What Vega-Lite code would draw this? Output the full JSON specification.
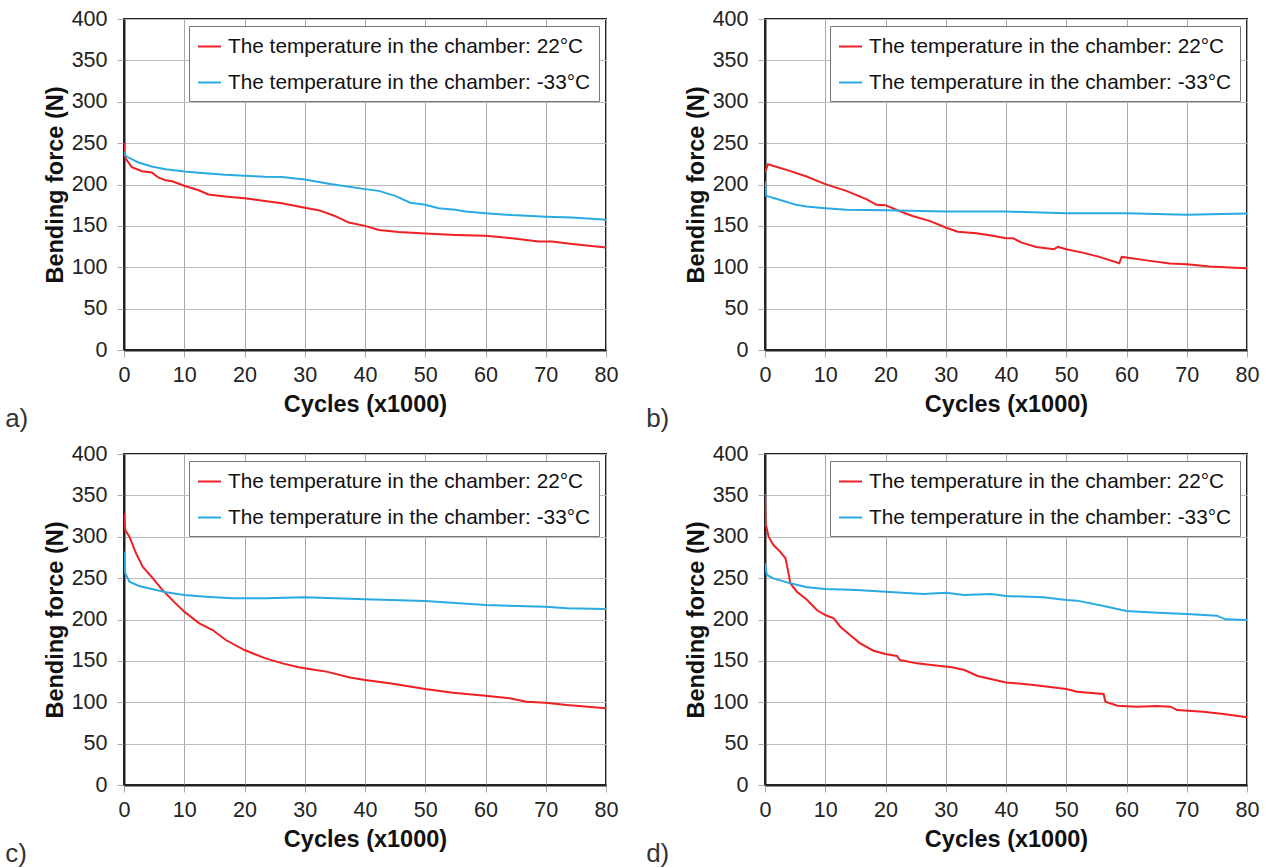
{
"$schema": "https://vega.github.io/schema/vega-lite/v6.json",
"background": "white",
"padding": {"left": 4, "top": 7, "right": 0, "bottom": 0},
"datasets": {"d": [
{"panel":"a","series":"22","cycles":0,"force":250},{"panel":"a","series":"22","cycles":0.1,"force":236},{"panel":"a","series":"22","cycles":0.3,"force":231},{"panel":"a","series":"22","cycles":1.3,"force":221},{"panel":"a","series":"22","cycles":3,"force":216},{"panel":"a","series":"22","cycles":4.6,"force":214.5},{"panel":"a","series":"22","cycles":5.7,"force":208.5},{"panel":"a","series":"22","cycles":6.9,"force":205},{"panel":"a","series":"22","cycles":8,"force":204},{"panel":"a","series":"22","cycles":10,"force":198.5},{"panel":"a","series":"22","cycles":12.4,"force":193},{"panel":"a","series":"22","cycles":14,"force":188},{"panel":"a","series":"22","cycles":16.8,"force":185.5},{"panel":"a","series":"22","cycles":20,"force":183.5},{"panel":"a","series":"22","cycles":23.4,"force":180},{"panel":"a","series":"22","cycles":26.2,"force":177.4},{"panel":"a","series":"22","cycles":30,"force":172},{"panel":"a","series":"22","cycles":32.3,"force":169},{"panel":"a","series":"22","cycles":35,"force":162},{"panel":"a","series":"22","cycles":37.3,"force":154},{"panel":"a","series":"22","cycles":40,"force":150},{"panel":"a","series":"22","cycles":42.3,"force":145},{"panel":"a","series":"22","cycles":45.6,"force":142.7},{"panel":"a","series":"22","cycles":50,"force":140.7},{"panel":"a","series":"22","cycles":55,"force":139},{"panel":"a","series":"22","cycles":60,"force":138},{"panel":"a","series":"22","cycles":64.4,"force":135},{"panel":"a","series":"22","cycles":68.8,"force":131},{"panel":"a","series":"22","cycles":71,"force":131},{"panel":"a","series":"22","cycles":74.4,"force":128},{"panel":"a","series":"22","cycles":80,"force":124},
{"panel":"a","series":"-33","cycles":0,"force":240},{"panel":"a","series":"-33","cycles":0.1,"force":236},{"panel":"a","series":"-33","cycles":0.5,"force":233.5},{"panel":"a","series":"-33","cycles":2.4,"force":226.6},{"panel":"a","series":"-33","cycles":4.6,"force":221.8},{"panel":"a","series":"-33","cycles":6.9,"force":218.5},{"panel":"a","series":"-33","cycles":10,"force":215.7},{"panel":"a","series":"-33","cycles":13.5,"force":213.7},{"panel":"a","series":"-33","cycles":16.8,"force":211.7},{"panel":"a","series":"-33","cycles":20,"force":210.5},{"panel":"a","series":"-33","cycles":23.4,"force":209.3},{"panel":"a","series":"-33","cycles":26.2,"force":209},{"panel":"a","series":"-33","cycles":30,"force":206},{"panel":"a","series":"-33","cycles":34.5,"force":200.4},{"panel":"a","series":"-33","cycles":40,"force":194.4},{"panel":"a","series":"-33","cycles":42.3,"force":192.3},{"panel":"a","series":"-33","cycles":45,"force":186.3},{"panel":"a","series":"-33","cycles":47.5,"force":178},{"panel":"a","series":"-33","cycles":50,"force":175.4},{"panel":"a","series":"-33","cycles":52.2,"force":171.4},{"panel":"a","series":"-33","cycles":55,"force":169.4},{"panel":"a","series":"-33","cycles":56.6,"force":167.3},{"panel":"a","series":"-33","cycles":60,"force":165.3},{"panel":"a","series":"-33","cycles":64.4,"force":163},{"panel":"a","series":"-33","cycles":70,"force":161},{"panel":"a","series":"-33","cycles":74.4,"force":160},{"panel":"a","series":"-33","cycles":80,"force":157.3},
{"panel":"b","series":"22","cycles":0,"force":214.5},{"panel":"b","series":"22","cycles":0.5,"force":224.6},{"panel":"b","series":"22","cycles":1.3,"force":222.6},{"panel":"b","series":"22","cycles":4.1,"force":216.5},{"panel":"b","series":"22","cycles":6.9,"force":209.7},{"panel":"b","series":"22","cycles":10,"force":200.4},{"panel":"b","series":"22","cycles":13.5,"force":192.3},{"panel":"b","series":"22","cycles":16.8,"force":182.3},{"panel":"b","series":"22","cycles":18.5,"force":175.4},{"panel":"b","series":"22","cycles":20,"force":175},{"panel":"b","series":"22","cycles":22.3,"force":168},{"panel":"b","series":"22","cycles":24.5,"force":162},{"panel":"b","series":"22","cycles":27.3,"force":156},{"panel":"b","series":"22","cycles":30,"force":148},{"panel":"b","series":"22","cycles":32,"force":143},{"panel":"b","series":"22","cycles":35.1,"force":141},{"panel":"b","series":"22","cycles":37.8,"force":138},{"panel":"b","series":"22","cycles":40,"force":135},{"panel":"b","series":"22","cycles":41.2,"force":135},{"panel":"b","series":"22","cycles":42.5,"force":130},{"panel":"b","series":"22","cycles":45,"force":124.6},{"panel":"b","series":"22","cycles":48,"force":121.8},{"panel":"b","series":"22","cycles":48.6,"force":124.6},{"panel":"b","series":"22","cycles":50,"force":121.8},{"panel":"b","series":"22","cycles":52.7,"force":117.7},{"panel":"b","series":"22","cycles":55.5,"force":112.5},{"panel":"b","series":"22","cycles":58.8,"force":104.8},{"panel":"b","series":"22","cycles":59.2,"force":112.5},{"panel":"b","series":"22","cycles":60,"force":111.7},{"panel":"b","series":"22","cycles":63.9,"force":107.7},{"panel":"b","series":"22","cycles":67.2,"force":104.4},{"panel":"b","series":"22","cycles":70,"force":103.6},{"panel":"b","series":"22","cycles":73.8,"force":100.8},{"panel":"b","series":"22","cycles":77.1,"force":99.6},{"panel":"b","series":"22","cycles":80,"force":98.8},
{"panel":"b","series":"-33","cycles":0,"force":204},{"panel":"b","series":"-33","cycles":0.2,"force":186.3},{"panel":"b","series":"-33","cycles":2.4,"force":181.5},{"panel":"b","series":"-33","cycles":5.2,"force":175.4},{"panel":"b","series":"-33","cycles":6.9,"force":173.4},{"panel":"b","series":"-33","cycles":10,"force":171.4},{"panel":"b","series":"-33","cycles":13.5,"force":169.4},{"panel":"b","series":"-33","cycles":20,"force":169},{"panel":"b","series":"-33","cycles":30,"force":167.3},{"panel":"b","series":"-33","cycles":40,"force":167.3},{"panel":"b","series":"-33","cycles":50,"force":165.3},{"panel":"b","series":"-33","cycles":60,"force":165.3},{"panel":"b","series":"-33","cycles":70,"force":163.3},{"panel":"b","series":"-33","cycles":80,"force":165},
{"panel":"c","series":"22","cycles":0,"force":328},{"panel":"c","series":"22","cycles":0.2,"force":308},{"panel":"c","series":"22","cycles":0.9,"force":300},{"panel":"c","series":"22","cycles":2,"force":280},{"panel":"c","series":"22","cycles":3.1,"force":263.8},{"panel":"c","series":"22","cycles":4.8,"force":249.7},{"panel":"c","series":"22","cycles":6.4,"force":235.6},{"panel":"c","series":"22","cycles":8.1,"force":222.8},{"panel":"c","series":"22","cycles":10,"force":209.5},{"panel":"c","series":"22","cycles":12.5,"force":195.4},{"panel":"c","series":"22","cycles":14.7,"force":187.3},{"panel":"c","series":"22","cycles":16.9,"force":175.2},{"panel":"c","series":"22","cycles":20,"force":163.1},{"panel":"c","series":"22","cycles":23.5,"force":153},{"panel":"c","series":"22","cycles":26.3,"force":147},{"panel":"c","series":"22","cycles":29,"force":142.2},{"panel":"c","series":"22","cycles":31.8,"force":139},{"panel":"c","series":"22","cycles":33.6,"force":137},{"panel":"c","series":"22","cycles":37.5,"force":130},{"panel":"c","series":"22","cycles":40,"force":127},{"panel":"c","series":"22","cycles":44.1,"force":123},{"panel":"c","series":"22","cycles":50,"force":116},{"panel":"c","series":"22","cycles":54.6,"force":111.6},{"panel":"c","series":"22","cycles":60,"force":108},{"panel":"c","series":"22","cycles":64,"force":104.7},{"panel":"c","series":"22","cycles":66.8,"force":100.7},{"panel":"c","series":"22","cycles":70,"force":99.5},{"panel":"c","series":"22","cycles":73.5,"force":96.7},{"panel":"c","series":"22","cycles":80,"force":92.7},
{"panel":"c","series":"-33","cycles":0,"force":282},{"panel":"c","series":"-33","cycles":0.2,"force":255.8},{"panel":"c","series":"-33","cycles":0.9,"force":245.7},{"panel":"c","series":"-33","cycles":2.5,"force":240.5},{"panel":"c","series":"-33","cycles":4.8,"force":236.5},{"panel":"c","series":"-33","cycles":7,"force":232.8},{"panel":"c","series":"-33","cycles":10,"force":229.6},{"panel":"c","series":"-33","cycles":13.6,"force":227.6},{"panel":"c","series":"-33","cycles":18,"force":225.6},{"panel":"c","series":"-33","cycles":23.5,"force":225.6},{"panel":"c","series":"-33","cycles":30,"force":226.8},{"panel":"c","series":"-33","cycles":40,"force":224.4},{"panel":"c","series":"-33","cycles":50,"force":222.4},{"panel":"c","series":"-33","cycles":60,"force":217.5},{"panel":"c","series":"-33","cycles":70,"force":215.5},{"panel":"c","series":"-33","cycles":73.5,"force":213.5},{"panel":"c","series":"-33","cycles":80,"force":212.7},
{"panel":"d","series":"22","cycles":0,"force":352},{"panel":"d","series":"22","cycles":0.1,"force":316},{"panel":"d","series":"22","cycles":0.6,"force":300},{"panel":"d","series":"22","cycles":1.4,"force":290},{"panel":"d","series":"22","cycles":2.5,"force":282},{"panel":"d","series":"22","cycles":3.4,"force":274},{"panel":"d","series":"22","cycles":3.8,"force":260},{"panel":"d","series":"22","cycles":4.2,"force":243.7},{"panel":"d","series":"22","cycles":5.3,"force":233.6},{"panel":"d","series":"22","cycles":7,"force":223.6},{"panel":"d","series":"22","cycles":8.6,"force":211.5},{"panel":"d","series":"22","cycles":10,"force":205.4},{"panel":"d","series":"22","cycles":11.4,"force":201.4},{"panel":"d","series":"22","cycles":12.5,"force":191.3},{"panel":"d","series":"22","cycles":14.1,"force":181.3},{"panel":"d","series":"22","cycles":15.8,"force":171.2},{"panel":"d","series":"22","cycles":18,"force":162.3},{"panel":"d","series":"22","cycles":20,"force":158.3},{"panel":"d","series":"22","cycles":21.9,"force":155.9},{"panel":"d","series":"22","cycles":22.4,"force":151},{"panel":"d","series":"22","cycles":25.2,"force":147},{"panel":"d","series":"22","cycles":29.1,"force":143.8},{"panel":"d","series":"22","cycles":31,"force":142.2},{"panel":"d","series":"22","cycles":33.1,"force":139},{"panel":"d","series":"22","cycles":35.3,"force":131.7},{"panel":"d","series":"22","cycles":40,"force":124},{"panel":"d","series":"22","cycles":44.6,"force":120.8},{"panel":"d","series":"22","cycles":50,"force":116},{"panel":"d","series":"22","cycles":51.8,"force":112.8},{"panel":"d","series":"22","cycles":56.2,"force":110},{"panel":"d","series":"22","cycles":56.5,"force":100.7},{"panel":"d","series":"22","cycles":58.5,"force":95.9},{"panel":"d","series":"22","cycles":61.8,"force":94.7},{"panel":"d","series":"22","cycles":65.1,"force":95.5},{"panel":"d","series":"22","cycles":67.3,"force":94.7},{"panel":"d","series":"22","cycles":68.4,"force":90.6},{"panel":"d","series":"22","cycles":72.7,"force":88.6},{"panel":"d","series":"22","cycles":76.1,"force":85.8},{"panel":"d","series":"22","cycles":80,"force":81.8},
{"panel":"d","series":"-33","cycles":0,"force":268},{"panel":"d","series":"-33","cycles":0.3,"force":253.8},{"panel":"d","series":"-33","cycles":1.4,"force":249.7},{"panel":"d","series":"-33","cycles":4.2,"force":243.7},{"panel":"d","series":"-33","cycles":7,"force":238.9},{"panel":"d","series":"-33","cycles":10,"force":236.9},{"panel":"d","series":"-33","cycles":15.2,"force":235.6},{"panel":"d","series":"-33","cycles":20,"force":233.6},{"panel":"d","series":"-33","cycles":26.3,"force":230.8},{"panel":"d","series":"-33","cycles":30,"force":232.4},{"panel":"d","series":"-33","cycles":33.1,"force":229.6},{"panel":"d","series":"-33","cycles":37.5,"force":230.8},{"panel":"d","series":"-33","cycles":40,"force":228.4},{"panel":"d","series":"-33","cycles":46.2,"force":226.8},{"panel":"d","series":"-33","cycles":50,"force":223.6},{"panel":"d","series":"-33","cycles":51.8,"force":222.8},{"panel":"d","series":"-33","cycles":56.2,"force":216.4},{"panel":"d","series":"-33","cycles":60,"force":210.3},{"panel":"d","series":"-33","cycles":65.1,"force":208.3},{"panel":"d","series":"-33","cycles":70,"force":206.7},{"panel":"d","series":"-33","cycles":75,"force":204.6},{"panel":"d","series":"-33","cycles":76.4,"force":200.2},{"panel":"d","series":"-33","cycles":80,"force":199.4}
]},
"columns": 2,
"spacing": {"row": 9, "column": 26},
"resolve": {"scale": {"color": "independent"}, "legend": {"color": "independent"}},
"concat": [
{"width": 482, "height": 331, "data": {"name": "d"}, "transform": [{"filter": "datum.panel === 'a'"}],
 "title": {"text": "a)"},
 "mark": {"type": "line", "strokeWidth": 2, "clip": true},
 "encoding": {
  "x": {"field": "cycles", "type": "quantitative", "scale": {"domain": [0, 80], "nice": false}, "axis": {"values": [0,10,20,30,40,50,60,70,80], "title": "Cycles (x1000)"}},
  "y": {"field": "force", "type": "quantitative", "scale": {"domain": [0, 400], "nice": false}, "axis": {"values": [0,50,100,150,200,250,300,350,400], "title": "Bending force (N)"}},
  "color": {"field": "series", "type": "nominal", "scale": {"domain": ["22", "-33"], "range": ["#ee2024", "#29abe2"]}, "legend": {"labelExpr": "'The temperature in the chamber: ' + datum.label + '°C'"}}
 }},
{"width": 482, "height": 331, "data": {"name": "d"}, "transform": [{"filter": "datum.panel === 'b'"}],
 "title": {"text": "b)"},
 "mark": {"type": "line", "strokeWidth": 2, "clip": true},
 "encoding": {
  "x": {"field": "cycles", "type": "quantitative", "scale": {"domain": [0, 80], "nice": false}, "axis": {"values": [0,10,20,30,40,50,60,70,80], "title": "Cycles (x1000)"}},
  "y": {"field": "force", "type": "quantitative", "scale": {"domain": [0, 400], "nice": false}, "axis": {"values": [0,50,100,150,200,250,300,350,400], "title": "Bending force (N)"}},
  "color": {"field": "series", "type": "nominal", "scale": {"domain": ["22", "-33"], "range": ["#ee2024", "#29abe2"]}, "legend": {"labelExpr": "'The temperature in the chamber: ' + datum.label + '°C'"}}
 }},
{"width": 482, "height": 331, "data": {"name": "d"}, "transform": [{"filter": "datum.panel === 'c'"}],
 "title": {"text": "c)"},
 "mark": {"type": "line", "strokeWidth": 2, "clip": true},
 "encoding": {
  "x": {"field": "cycles", "type": "quantitative", "scale": {"domain": [0, 80], "nice": false}, "axis": {"values": [0,10,20,30,40,50,60,70,80], "title": "Cycles (x1000)"}},
  "y": {"field": "force", "type": "quantitative", "scale": {"domain": [0, 400], "nice": false}, "axis": {"values": [0,50,100,150,200,250,300,350,400], "title": "Bending force (N)"}},
  "color": {"field": "series", "type": "nominal", "scale": {"domain": ["22", "-33"], "range": ["#ee2024", "#29abe2"]}, "legend": {"labelExpr": "'The temperature in the chamber: ' + datum.label + '°C'"}}
 }},
{"width": 482, "height": 331, "data": {"name": "d"}, "transform": [{"filter": "datum.panel === 'd'"}],
 "title": {"text": "d)"},
 "mark": {"type": "line", "strokeWidth": 2, "clip": true},
 "encoding": {
  "x": {"field": "cycles", "type": "quantitative", "scale": {"domain": [0, 80], "nice": false}, "axis": {"values": [0,10,20,30,40,50,60,70,80], "title": "Cycles (x1000)"}},
  "y": {"field": "force", "type": "quantitative", "scale": {"domain": [0, 400], "nice": false}, "axis": {"values": [0,50,100,150,200,250,300,350,400], "title": "Bending force (N)"}},
  "color": {"field": "series", "type": "nominal", "scale": {"domain": ["22", "-33"], "range": ["#ee2024", "#29abe2"]}, "legend": {"labelExpr": "'The temperature in the chamber: ' + datum.label + '°C'"}}
 }}
],
"config": {
 "font": "Liberation Sans",
 "view": {"stroke": "#222", "strokeWidth": 2},
 "axis": {"labelFontSize": 21.5, "labelColor": "#222", "labelFont": "Liberation Sans", "labelFlush": false, "titleFont": "Liberation Sans", "titleFontSize": 23.5, "titleFontWeight": "bold", "titleColor": "#111", "tickColor": "#aaa", "tickSize": 7, "domain": true, "domainColor": "#222", "domainWidth": 2, "gridColor": "#bdbdbd", "gridWidth": 1},
 "axisX": {"labelPadding": 7, "titlePadding": 7, "gridColor": "#a8a8a8"},
 "axisY": {"labelPadding": 10, "titlePadding": 4},
 "legend": {"orient": "top-right", "offset": 7, "title": null, "fillColor": "white", "strokeColor": "#777", "padding": 8, "symbolType": "stroke", "symbolSize": 529, "symbolStrokeWidth": 2, "labelFontSize": 20.8, "labelFont": "Liberation Sans", "labelColor": "#111", "labelOffset": 6, "rowPadding": 13, "labelLimit": 600},
 "title": {"orient": "bottom", "anchor": "start", "frame": "bounds", "dx": -38, "offset": -10, "fontSize": 26, "fontWeight": "normal", "color": "#333", "font": "Liberation Sans"}
}
}
